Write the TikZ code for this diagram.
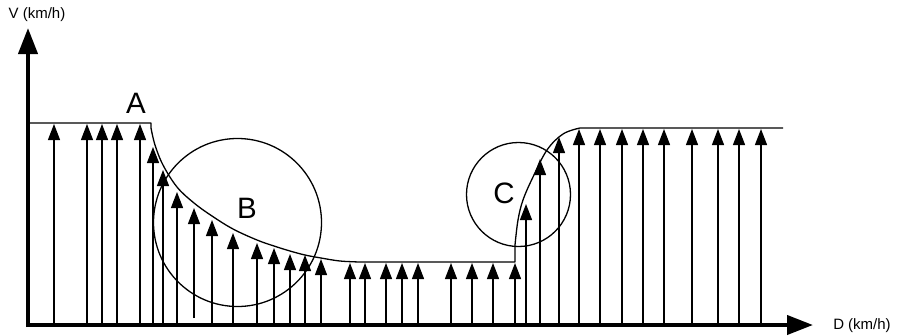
\documentclass[tikz,border=0pt]{standalone}
\usepackage{fontspec}
\setmainfont{Liberation Sans}
\usetikzlibrary{arrows.meta}
\begin{document}
\begin{tikzpicture}[x=1pt,y=-1pt,
  curve/.style={line width=1.3pt, line join=round},
  vec/.style={line width=1.3pt, -{Triangle[width=12pt,length=16pt]}},
  axis/.style={line width=4pt, -{Triangle[width=19pt,length=26pt]}},
  ring/.style={line width=1.3pt},
  big/.style={font=\fontsize{29.5}{29.5}\selectfont, inner sep=0pt},
  axlabel/.style={font=\fontsize{15}{15}\selectfont, inner sep=0pt}]
\useasboundingbox (0,0) rectangle (899,335);
% axes
\coordinate (ybase) at (28,327);
\coordinate (ytip) at (28,28);
\coordinate (xbase) at (26,325);
\coordinate (xtip) at (813,325);
\draw[axis] (ybase) -- (ytip);
\draw[axis] (xbase) -- (xtip);
\node[axlabel] (vlab) at (37,15) {V (km/h)};
\node[axlabel] (dlab) at (862,326) {D (km/h)};
% speed profile
\draw[curve] (28,123) -- (151,123) -- (151,128)
  -- plot[smooth, tension=0.6] coordinates {(151,128) (155,145) (163,165) (177,187) (194,203) (212,216) (233,229) (257,240) (274,246) (290,251) (305,255) (321,258) (340,261) (360,262)}
  -- (515,262) -- (515,245)
  -- plot[smooth, tension=0.6] coordinates {(515,245) (518,220) (523,200) (533,177) (547,150) (563,134) (580,128)}
  -- (783,128);
% vectors
\foreach \x in {54,87,102,117,140} \draw[vec] (\x,324) -- (\x,124);
\foreach \x/\y in {153/147,163/170,177/192,212/220,233/233,257/243,274/248,290/254,305/255,321/259} \draw[vec] (\x,324) -- (\x,\y);
\draw[vec] (194,318) -- (194,208);
\foreach \x in {350,365,386,402,418,451,472,493,515} \draw[vec] (\x,324) -- (\x,263);
\foreach \x/\y in {526/204,540/159,559/137} \draw[vec] (\x,324) -- (\x,\y);
\foreach \x in {579,600,622,643,664,692,718,739,761} \draw[vec] (\x,324) -- (\x,129);
% circles
\draw[ring] (237.5,222.5) circle[radius=84];
\draw[ring] (518.5,194.5) circle[radius=52];
% labels
\node[big] (A) at (136,103.5) {A};
\node[big] (B) at (247,208.5) {B};
\node[big] (C) at (504,193) {C};
\end{tikzpicture}
\end{document}
